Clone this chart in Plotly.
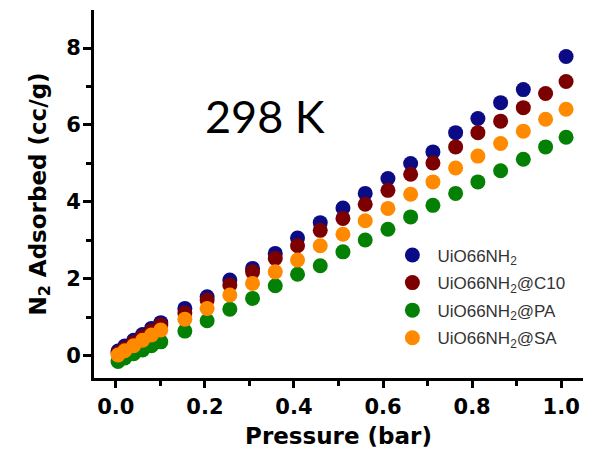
import plotly.graph_objects as go

# Pressure (bar)
p_low = [0.005, 0.02, 0.04, 0.06, 0.08, 0.101]
p_high = [0.155, 0.205, 0.256, 0.307, 0.358, 0.408, 0.459, 0.510, 0.560,
          0.611, 0.662, 0.712, 0.763, 0.813, 0.864, 0.915, 0.965, 1.011]
pressure = p_low + p_high
pressure_nh2 = p_low + p_high[:16] + p_high[17:]  # no point at 0.965

# N2 adsorbed (cc/g)
uio66nh2 = [0.12, 0.25, 0.40, 0.55, 0.71, 0.86,
            1.23, 1.53, 1.97, 2.27, 2.66, 3.06, 3.46, 3.84, 4.22,
            4.61, 5.00, 5.30, 5.80, 6.17, 6.58, 6.92, 7.78]
uio66nh2_c10 = [0.07, 0.19, 0.34, 0.49, 0.64, 0.80,
                1.11, 1.45, 1.84, 2.18, 2.53, 2.86, 3.26, 3.57, 3.94,
                4.30, 4.72, 5.01, 5.43, 5.80, 6.10, 6.45, 6.82, 7.13]
uio66nh2_pa = [-0.15, -0.06, 0.05, 0.15, 0.26, 0.36,
               0.64, 0.91, 1.21, 1.49, 1.82, 2.12, 2.34, 2.70, 3.01,
               3.29, 3.61, 3.91, 4.22, 4.52, 4.81, 5.11, 5.43, 5.68]
uio66nh2_sa = [0.02, 0.13, 0.26, 0.40, 0.54, 0.67,
               0.95, 1.23, 1.58, 1.88, 2.18, 2.49, 2.86, 3.16, 3.51,
               3.83, 4.20, 4.52, 4.88, 5.19, 5.52, 5.84, 6.15, 6.41]

names = ["UiO66NH<sub>2</sub>", "UiO66NH<sub>2</sub>@C10",
         "UiO66NH<sub>2</sub>@PA", "UiO66NH<sub>2</sub>@SA"]
colors = ["#0b0b86", "#7d0000", "#048004", "#ff8a00"]
xs = [pressure_nh2, pressure, pressure, pressure]
ys = [uio66nh2, uio66nh2_c10, uio66nh2_pa, uio66nh2_sa]

x_ticks = [0.0, 0.2, 0.4, 0.6, 0.8, 1.0]
x_ticklabels = ["0.0", "0.2", "0.4", "0.6", "0.8", "1.0"]
y_ticks = [0, 2, 4, 6, 8]
y_ticklabels = ["0", "2", "4", "6", "8"]

fig = go.Figure()
for i in range(4):
    fig.add_trace(go.Scatter(
        x=xs[i], y=ys[i], mode="markers", name=names[i],
        legendgroup=str(i),
        marker=dict(size=15, color=colors[i], line=dict(width=0)),
    ))

axis_font = dict(family="DejaVu Sans", size=21, color="black", weight="bold")

fig.update_layout(
    width=594, height=453,
    margin=dict(l=94, r=11, t=10, b=75, autoexpand=False),
    paper_bgcolor="white", plot_bgcolor="white",
    showlegend=True,
    legend=dict(x=0.6, y=0.382, xanchor="left", yanchor="top",
                font=dict(family="Liberation Sans", size=17, color="#333333"),
                bgcolor="rgba(0,0,0,0)", itemsizing="trace", itemwidth=40,
                tracegroupgap=2.5, traceorder="grouped"),
    annotations=[dict(text="298 K", x=0.35, y=0.792, xref="paper", yref="paper",
                      showarrow=False, font=dict(family="Lato", size=45, color="black"))],
)

fig.update_xaxes(
    range=[-0.049, 1.049], tickmode="array", tickvals=x_ticks, ticktext=x_ticklabels,
    showline=True, linecolor="black", linewidth=3, mirror=False, automargin=False,
    ticks="outside", ticklen=7, tickwidth=2.5, tickcolor="black",
    minor=dict(dtick=0.1, tick0=0, ticks="outside", ticklen=5, tickwidth=2.5, tickcolor="black"),
    showgrid=False, zeroline=False, tickfont=axis_font, ticklabelstandoff=1,
    title=dict(text="Pressure (bar)", font=dict(family="DejaVu Sans", size=23, color="black", weight="bold"),
               standoff=10),
)
fig.update_yaxes(
    range=[-0.58, 8.99], tickmode="array", tickvals=y_ticks, ticktext=y_ticklabels,
    showline=True, linecolor="black", linewidth=3, mirror=False, automargin=False,
    ticks="outside", ticklen=8, tickwidth=2.5, tickcolor="black",
    minor=dict(dtick=1, tick0=0, ticks="outside", ticklen=5, tickwidth=2.5, tickcolor="black"),
    showgrid=False, zeroline=False, tickfont=axis_font, ticklabelstandoff=-2,
    title=dict(text="N<sub>2</sub> Adsorbed (cc/g)",
               font=dict(family="DejaVu Sans", size=23, color="black", weight="bold"),
               standoff=14),
)

fig.write_html("out.html")
